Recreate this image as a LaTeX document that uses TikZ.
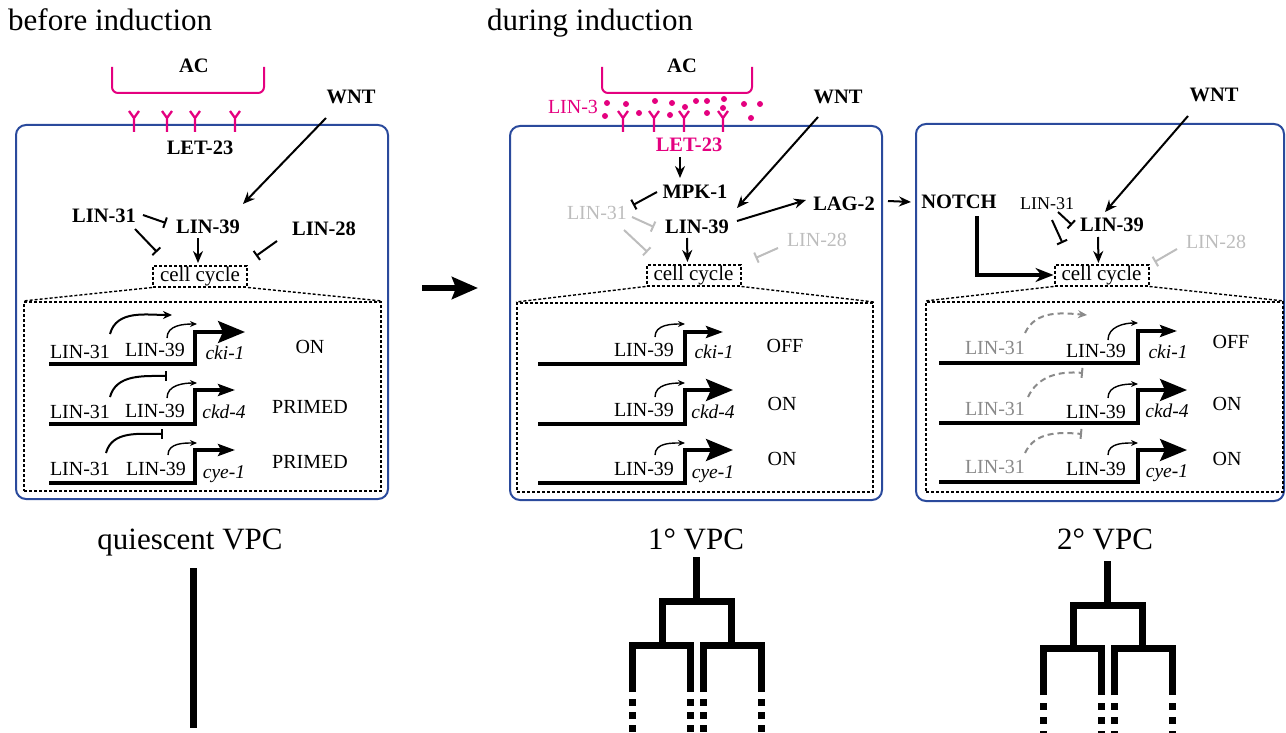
\documentclass[tikz,border=0pt]{standalone}
\usepackage{fontspec}
\setmainfont{Liberation Serif}
\usepackage{xcolor}
\usetikzlibrary{arrows.meta,positioning,calc}
\definecolor{acpink}{HTML}{E4007F}
\definecolor{vpcblue}{HTML}{2A4A9C}
\definecolor{offgray}{HTML}{BDBDBD}
\definecolor{midgray}{HTML}{8A8A8A}

\begin{document}
\begin{tikzpicture}[
  x=1pt, y=-1pt,
  every node/.style={inner sep=0pt},
  gene/.style={font=\fontsize{20.5}{24}\selectfont\bfseries},
  plain/.style={font=\fontsize{20}{24}\selectfont},
  smalllab/.style={font=\fontsize{18}{22}\selectfont},
  genename/.style={font=\fontsize{19.5}{24}\selectfont\itshape},
  headline/.style={font=\fontsize{31}{36}\selectfont},
  vpcbox/.style={draw=vpcblue, line width=2pt, rounded corners=10pt},
  cyclebox/.style={draw, line width=2pt, dash pattern=on 3pt off 2pt, minimum width=94pt, minimum height=21pt, font=\fontsize{21}{24}\selectfont},
  zoombox/.style={draw, line width=2pt, dash pattern=on 3pt off 2pt},
  zoomline/.style={line width=1.4pt, dash pattern=on 3pt off 2pt},
  acbracket/.style={acpink, line width=2pt, rounded corners=6pt},
  receptor/.style={acpink, line width=2.3pt},
  arr/.style={line width=2pt, -{Stealth[length=12pt, width=10pt]}},
  inh/.style={line width=2pt, -{Bar[width=11pt]}},
  locus/.style={line width=3.2pt},
  onhead/.style={-{Stealth[length=27pt, width=22pt, inset=5pt]}},
  offhead/.style={-{Stealth[length=17pt, width=12pt, inset=3pt]}},
  act31/.style={line width=2pt, -{Stealth[length=9pt, width=8pt]}},
  rep31/.style={line width=2pt, -{Bar[width=10pt]}},
  act39/.style={line width=1.4pt, -{Stealth[length=7pt, width=6pt]}},
  weak/.style={midgray, dash pattern=on 6pt off 4pt},
  notcharr/.style={line width=4pt, -{Stealth[length=18pt, width=14pt]}},
  bigarr/.style={line width=6pt, -{Stealth[length=26pt, width=22pt, inset=4pt]}},
  lineage/.style={line width=7pt},
]
  \useasboundingbox (0,0) rectangle (1286,733);

  % Titles
  \node[headline, anchor=base west] (before) at (8,31) {before induction};
  \node[headline, anchor=base west] (during) at (487,31) {during induction};

  % ---------- before induction ----------
  \node[vpcbox, minimum width=372pt, minimum height=374pt] (vpcb) at (202,312) {};
  \draw[acbracket] (112,67) |- (264,93) -- (264,67);
  \node[gene] (acb) at (194,66) {AC};
  \draw[receptor] (129,111) -- (134,118) -- (139,111) (134,118) -- (134,132)
    (162,111) -- (167,118) -- (172,111) (167,118) -- (167,132)
    (190,111) -- (195,118) -- (200,111) (195,118) -- (195,132)
    (230,111) -- (235,118) -- (240,111) (235,118) -- (235,132);
  \node[gene] (letb) at (200,148) {LET-23};
  \node[gene] (wntb) at (351,97) {WNT};
  \node[gene] (lin31b) at (104,216) {LIN-31};
  \node[gene] (lin39b) at (208,227) {LIN-39};
  \node[gene] (lin28b) at (324,229) {LIN-28};
  \node[cyclebox] (ccb) at (200,276) {cell cycle};

  \draw[arr] ($(wntb)+(-25,21)$) -- ($(lin39b)+(35,-23)$);
  \draw[inh] ($(lin31b)+(39,-1)$) -- ($(lin39b)+(-42,-4)$);
  \draw[inh] ($(lin31b)+(31,13)$) -- ($(ccb)+(-43,-24)$);
  \draw[arr] ($(lin39b)+(-10,11)$) -- ($(ccb)+(-2,-13)$);
  \draw[inh] ($(lin28b)+(-47,12)$) -- ($(ccb)+(56,-20)$);

  % Zoom on the cell cycle genes
  \node[zoombox, minimum width=357pt, minimum height=189pt] (zb) at (202.5,396.5) {};
  \draw[zoomline] (ccb.south west) -- (zb.north west);
  \draw[zoomline] (ccb.south east) -- (zb.north east);

  \coordinate (pb1) at (195,332);
  \draw[locus, onhead] (49,364) -| (pb1) -- ++(50,0);
  \node[plain, anchor=base] (b31a) at (80,358) {LIN-31};
  \node[plain, anchor=base] (b39a) at (155,356) {LIN-39};
  \node[genename, anchor=base] (bcki) at (225,359) {cki-1};
  \node[plain, anchor=base] (bon) at (310,353) {ON};
  \draw[act31] ($(b31a.base)+(30,-24)$) to[out=75, in=180] ($(pb1)+(-23,-17)$);
  \draw[act39] ($(b39a.base)+(12,-18)$) to[out=90, in=180] ($(pb1)+(2,-8)$);

  \coordinate (pb2) at (195,390);
  \draw[locus, offhead] (49,424) -| (pb2) -- ++(40,0);
  \node[plain, anchor=base] (b31b) at (80,418) {LIN-31};
  \node[plain, anchor=base] (b39b) at (155,417) {LIN-39};
  \node[genename, anchor=base] (bckd) at (224,418) {ckd-4};
  \node[plain, anchor=base] (bprb) at (310,413) {PRIMED};
  \draw[rep31] ($(b31b.base)+(30,-21)$) to[out=75, in=180] ($(pb2)+(-28,-14)$);
  \draw[act39] ($(b39b.base)+(12,-19)$) to[out=90, in=180] ($(pb2)+(2,-7)$);

  \coordinate (pb3) at (195,450);
  \draw[locus, offhead] (49,483) -| (pb3) -- ++(40,0);
  \node[plain, anchor=base] (b31c) at (80,475) {LIN-31};
  \node[plain, anchor=base] (b39c) at (156,475) {LIN-39};
  \node[genename, anchor=base] (bcye) at (224,478) {cye-1};
  \node[plain, anchor=base] (bprc) at (310,468) {PRIMED};
  \draw[rep31] ($(b31c.base)+(26,-22)$) to[out=75, in=180] ($(pb3)+(-32,-16)$);
  \draw[act39] ($(b39c.base)+(12,-20)$) to[out=90, in=180] ($(pb3)+(2,-7)$);

  % Induction arrow
  \coordinate (inda) at (422,288);
  \coordinate (indb) at (478,288);
  \draw[bigarr] (inda) -- (indb);

  % ---------- during induction: 1 VPC ----------
  \node[vpcbox, minimum width=372pt, minimum height=374pt] (vpcd) at (696,313) {};
  \draw[acbracket] (602,67) |- (752,93) -- (752,67);
  \node[gene] (acd) at (682,66) {AC};
  \fill[acpink] (607,103) circle[radius=3pt] (605,116) circle[radius=3pt]
    (626,104) circle[radius=3pt] (639,113) circle[radius=3pt]
    (655,101) circle[radius=3pt] (672,103) circle[radius=3pt]
    (670,115) circle[radius=3pt] (685,107) circle[radius=3pt]
    (696,101) circle[radius=3pt] (707,101) circle[radius=3pt]
    (707,113) circle[radius=3pt] (724,99) circle[radius=3pt]
    (723,108) circle[radius=3pt] (744,104) circle[radius=3pt]
    (760,104) circle[radius=3pt] (751,118) circle[radius=3pt];
  \draw[receptor] (618,111) -- (623,118) -- (628,111) (623,118) -- (623,132)
    (649,111) -- (654,118) -- (659,111) (654,118) -- (654,132)
    (679,111) -- (684,118) -- (689,111) (684,118) -- (684,132)
    (718,111) -- (723,118) -- (728,111) (723,118) -- (723,132);
  \node[plain, text=acpink] (lin3) at (573,107) {LIN-3};
  \node[gene, text=acpink] (letd) at (689,145) {LET-23};
  \node[gene] (mpk) at (695,192) {MPK-1};
  \node[plain, text=offgray] (lin31d) at (597,213) {LIN-31};
  \node[gene] (lin39d) at (697,227) {LIN-39};
  \node[gene] (lag2) at (844,204) {LAG-2};
  \node[gene] (wntd) at (838,97) {WNT};
  \node[plain, text=offgray] (lin28d) at (817,240) {LIN-28};
  \node[cyclebox] (ccd) at (693.5,275) {cell cycle};

  \draw[arr] ($(letd)+(-9,12)$) -- ($(mpk)+(-15,-14)$);
  \draw[inh] ($(mpk)+(-38,0)$) -- ($(lin31d)+(36,-8)$);
  \draw[inh, offgray] ($(lin31d)+(35,4)$) -- ($(lin39d)+(-43,0)$);
  \draw[inh, offgray] ($(lin31d)+(27,17)$) -- ($(ccd)+(-46,-23)$);
  \draw[arr] ($(wntd)+(-20,20)$) -- ($(lin39d)+(40,-19)$);
  \draw[arr] ($(lin39d)+(40,-6)$) -- ($(lag2)+(-38,-4)$);
  \draw[arr] ($(lin39d)+(-10,11)$) -- ($(ccd)+(-6,-13)$);
  \draw[inh, offgray] ($(lin28d)+(-39,8)$) -- ($(ccd)+(62,-17)$);

  \node[zoombox, minimum width=356pt, minimum height=189pt] (zd) at (695,397.5) {};
  \draw[zoomline] (ccd.south west) -- (zd.north west);
  \draw[zoomline] (ccd.south east) -- (zd.north east);

  \coordinate (pd1) at (685,332);
  \draw[locus, offhead] (538,364) -| (pd1) -- ++(38,0);
  \node[plain, anchor=base] (d39a) at (644,356) {LIN-39};
  \node[genename, anchor=base] (dcki) at (714,358) {cki-1};
  \node[plain, anchor=base] (doff) at (785,352) {OFF};
  \draw[act39] ($(d39a.base)+(11,-19)$) to[out=90, in=180] ($(pd1)+(0,-8)$);

  \coordinate (pd2) at (685,390);
  \draw[locus, onhead] (538,424) -| (pd2) -- ++(48,0);
  \node[plain, anchor=base] (d39b) at (644,416) {LIN-39};
  \node[genename, anchor=base] (dckd) at (713,418) {ckd-4};
  \node[plain, anchor=base] (donb) at (782,410) {ON};
  \draw[act39] ($(d39b.base)+(11,-19)$) to[out=90, in=180] ($(pd2)+(0,-7)$);

  \coordinate (pd3) at (685,450);
  \draw[locus, onhead] (538,483) -| (pd3) -- ++(48,0);
  \node[plain, anchor=base] (d39c) at (644,475) {LIN-39};
  \node[genename, anchor=base] (dcye) at (713,478) {cye-1};
  \node[plain, anchor=base] (donc) at (782,465) {ON};
  \draw[act39] ($(d39c.base)+(11,-20)$) to[out=90, in=180] ($(pd3)+(0,-7)$);

  % ---------- during induction: 2 VPC ----------
  \node[vpcbox, minimum width=368pt, minimum height=377pt] (vpcn) at (1100,312.5) {};
  \node[gene] (notch) at (959,202) {NOTCH};
  \node[gene] (wntn) at (1214,95) {WNT};
  \node[smalllab] (lin31n) at (1047,204) {LIN-31};
  \node[gene] (lin39n) at (1112,225) {LIN-39};
  \node[plain, text=offgray] (lin28n) at (1216,242) {LIN-28};
  \node[cyclebox] (ccn) at (1101.5,275) {cell cycle};

  \draw[arr] ($(lag2)+(44,-3)$) -- ($(notch)+(-48,0)$);
  \draw[arr] ($(wntn)+(-26,21)$) -- ($(lin39n)+(-7,-13)$);
  \draw[inh] ($(lin31n)+(11,8)$) -- ($(lin39n)+(-40,0)$);
  \draw[inh] ($(lin31n)+(5,16)$) -- ($(ccn)+(-39,-32)$);
  \draw[arr] ($(lin39n)+(-14,12)$) -- ($(ccn)+(-3,-12)$);
  \draw[inh, offgray] ($(lin28n)+(-39,7)$) -- ($(ccn)+(53,-13)$);
  \draw[notcharr] ($(notch)+(18,14)$) |- (ccn.west);

  \node[zoombox, minimum width=357pt, minimum height=190pt] (zn) at (1104.5,397) {};
  \draw[zoomline] (ccn.south west) -- (zn.north west);
  \draw[zoomline] (ccn.south east) -- (zn.north east);

  \coordinate (pn1) at (1138,331);
  \draw[locus, offhead] (939,363) -| (pn1) -- ++(39,0);
  \node[plain, anchor=base, text=midgray] (n31a) at (995,354) {LIN-31};
  \node[plain, anchor=base] (n39a) at (1096,357) {LIN-39};
  \node[genename, anchor=base] (ncki) at (1168,358) {cki-1};
  \node[plain, anchor=base] (noff) at (1231,348) {OFF};
  \draw[act31, weak] ($(n31a.base)+(30,-21)$) to[out=65, in=175] ($(pn1)+(-51,-16)$);
  \draw[act39] ($(n39a.base)+(12,-17)$) to[out=90, in=180] ($(pn1)+(0,-8)$);

  \coordinate (pn2) at (1138,390);
  \draw[locus, onhead] (939,423) -| (pn2) -- ++(49,0);
  \node[plain, anchor=base, text=midgray] (n31b) at (995,415) {LIN-31};
  \node[plain, anchor=base] (n39b) at (1096,418) {LIN-39};
  \node[genename, anchor=base] (nckd) at (1167,417) {ckd-4};
  \node[plain, anchor=base] (nonb) at (1227,410) {ON};
  \draw[rep31, weak] ($(n31b.base)+(33,-18)$) to[out=65, in=175] ($(pn2)+(-55,-17)$);
  \draw[act39] ($(n39b.base)+(12,-20)$) to[out=90, in=180] ($(pn2)+(0,-6)$);

  \coordinate (pn3) at (1138,450);
  \draw[locus, onhead] (939,482) -| (pn3) -- ++(49,0);
  \node[plain, anchor=base, text=midgray] (n31c) at (995,473) {LIN-31};
  \node[plain, anchor=base] (n39c) at (1096,475) {LIN-39};
  \node[genename, anchor=base] (ncye) at (1167,477) {cye-1};
  \node[plain, anchor=base] (nonc) at (1227,465) {ON};
  \draw[rep31, weak] ($(n31c.base)+(30,-20)$) to[out=65, in=175] ($(pn3)+(-56,-16)$);
  \draw[act39] ($(n39c.base)+(12,-20)$) to[out=90, in=180] ($(pn3)+(0,-7)$);

  % Fates and lineages
  \node[headline, anchor=base] (quiet) at (190,549) {quiescent VPC};
  \node[headline, anchor=base] (prim) at (696,549) {1° VPC};
  \node[headline, anchor=base] (sec) at (1105,549) {2° VPC};

  \draw[lineage] (193,568) -- (193,728);

  \draw[lineage] (696,557) -- (696,601);
  \draw[lineage] (662,645) -- (662,601) -- (731,601) -- (731,645);
  \draw[lineage] (632,692) -- (632,645) -- (690,645) -- (690,692);
  \draw[lineage] (703,692) -- (703,645) -- (761,645) -- (761,692);
  \draw[lineage, dash pattern=on 7pt off 6pt] (632,699) -- (632,734) (690,699) -- (690,734)
    (703,699) -- (703,734) (761,699) -- (761,734);

  \draw[lineage] (1107,561) -- (1107,605);
  \draw[lineage] (1073,648) -- (1073,605) -- (1142,605) -- (1142,648);
  \draw[lineage] (1043,695) -- (1043,648) -- (1101,648) -- (1101,695);
  \draw[lineage] (1114,695) -- (1114,648) -- (1172,648) -- (1172,695);
  \draw[lineage, dash pattern=on 7pt off 7pt] (1043,703) -- (1043,738) (1101,703) -- (1101,738)
    (1114,703) -- (1114,738) (1172,703) -- (1172,738);
\end{tikzpicture}
\end{document}
